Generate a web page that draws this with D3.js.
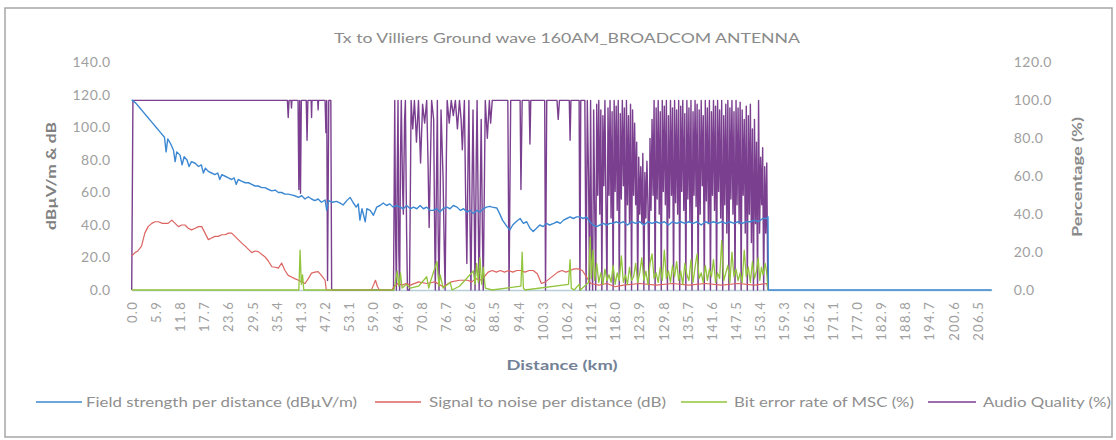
<!DOCTYPE html>
<html><head><meta charset="utf-8">
<script src="https://cdn.jsdelivr.net/npm/d3@7"></script>
<style>
body{margin:0;background:#fff}
svg text{font-family:Lato,"Liberation Sans",sans-serif}
</style>
</head><body>
<svg id="chart" width="1116" height="440"></svg>
<script>
const chartTitle = "Tx to Villiers Ground wave 160AM_BROADCOM ANTENNA";
const xAxisLabels = ["0.0","5.9","11.8","17.7","23.6","29.5","35.4","41.3","47.2","53.1","59.0","64.9","70.8","76.7","82.6","88.5","94.4","100.3","106.2","112.1","118.0","123.9","129.8","135.7","141.6","147.5","153.4","159.3","165.2","171.1","177.0","182.9","188.8","194.7","200.6","206.5"];
const leftTicks = [0,20,40,60,80,100,120,140];
const rightTicks = [0,20,40,60,80,100,120];
const seriesNames = ["Field strength per distance (dBµV/m)","Signal to noise per distance (dB)","Bit error rate of MSC (%)","Audio Quality (%)"];

// Field strength (dBµV/m) : [km, value]
const fieldStrength = [[0,117],[1,115],[2,112],[3,109],[4,106],[5,103],[6,100],[7,97],[8,94],[8.4,85],[8.8,93],[9.5,90],[10.2,86],[10.6,79],[11,85],[11.8,83],[12.3,77],[12.8,82],[13.5,80],[14,76],[14.6,79],[15.5,78],[16.3,76],[17,77],[17.5,72],[18,75],[18.7,73],[19.5,72],[20.3,71],[21,72],[21.5,68],[22,71],[22.8,70],[23.6,69],[24.4,68],[25,69],[25.5,65],[26,68],[26.8,67],[27.7,66],[28.5,66],[29.3,65],[30.1,64],[30.9,64],[31.7,63],[32.5,63],[33.3,62],[34.2,61],[35,61.5],[35.8,60],[36.6,60],[37.4,59],[38.2,59],[39,58.5],[39.8,58],[40.7,57],[41.5,58],[42.3,56],[43.1,57.4],[43.9,56],[44.7,55],[45.5,56],[46.3,54],[47.2,55.4],[47.6,49],[48,55],[49,54],[50,54.5],[50.9,53.5],[51.6,52.3],[52.5,55],[53.3,57],[54,54],[54.8,51],[55.3,53],[55.7,43],[56.2,50],[57,42],[57.4,50],[58.2,49],[59,46],[59.8,51],[60.6,52],[61.4,53.5],[62.2,52],[63,53],[63.8,51],[64.6,52],[65.5,51],[66.3,50],[67.1,52],[68,50],[68.8,51],[69.6,50],[70.4,52],[71.2,50],[72,51],[72.8,49],[73.6,49],[74.4,50],[75.2,48],[76,50],[76.9,51],[77.7,50],[78.5,52],[79.4,51],[80.2,49],[81,50],[81.8,48],[82.6,49],[83.4,47],[84.2,49],[85,48],[85.8,50],[86.6,51],[87.4,51.5],[88,51],[89.1,50.5],[89.8,47],[90.5,43],[91.6,39],[92.3,37],[93,40],[93.8,42],[94.8,44],[95.6,41],[96.4,42],[97.2,38],[98,36],[98.8,38],[99.6,40],[100.4,39],[101.2,41],[102,40],[103,41],[103.8,42],[104.6,41],[105.4,43],[106.2,44],[107,45],[107.8,44],[108.6,45],[109.4,45],[110.2,44],[111,45],[111.8,42],[112.6,40],[113.5,39],[114.3,40],[115.1,41],[115.9,40],[116.7,41],[117.5,41],[118.3,42],[119,41],[120,42],[121,40],[122,42],[123,41],[124,42],[125,40],[126,42],[127,41],[128,42],[129,41],[130,42],[131,40],[132,42],[133,41],[134,42],[135,41],[136,42],[137,41],[138,42],[139,40],[140,42],[141,41],[142,42],[143,41],[144,42],[145,41],[146,42],[147,41],[148,42],[149,41],[150,42],[151,42],[152,43],[153,42],[154,44],[155,44],[155.3,45],[155.4,0],[209.9,0]];

// Signal to noise (dB)
const signalToNoise = [[0,21],[0.8,23],[1.5,24],[2.4,27],[3.2,35],[4,39],[4.9,41],[5.7,42],[6.5,42],[7.5,41],[8.9,41],[9.8,43],[10.6,41],[11.4,39],[12.2,40],[13,40],[13.8,38],[14.6,37],[15.5,38],[16.3,39],[17.1,39],[17.9,35],[18.7,31],[19.5,32],[20.3,33],[21.1,33],[22,34],[22.8,34],[23.6,35],[24.4,35],[25.2,33],[26,31],[26.8,29],[27.7,27],[28.5,25],[29.3,23],[30.1,24],[30.9,23.6],[31.7,22],[32.5,20.5],[33.3,18],[34.2,14.3],[35,14],[35.8,13.5],[36.6,16.6],[37.4,12],[38.2,9],[39,8],[39.8,7],[40.7,6],[41.5,5],[42.3,4],[43.1,7],[43.9,10.4],[44.7,11],[45.5,11.3],[46.3,9],[47.2,6],[47.5,0],[58.5,0],[59,3],[59.5,6],[60,2],[60.5,0],[63.5,0],[64,2],[65,4],[66,3],[67,4],[68,3],[70,5],[72,4],[74,5],[76,2],[78,5],[80,6],[82,6],[83,5],[84,7],[85,6],[86,8],[87,11],[88,12],[89,11],[90,12],[91,11],[92,12],[93,11],[94,12],[95,12],[96,11],[97,12],[98,12],[99,10],[100,4],[101,5],[102,7],[103,9],[104,11],[105,12],[106,11],[107,12],[108,13],[109,13],[110,12],[111,8],[112,4],[114,3],[116,4],[118,2],[120,3],[124,4],[128,3],[132,4],[136,3],[140,4],[144,3],[148,4],[152,3],[155,4],[155.3,0]];

// Bit error rate of MSC (%)
const bitErrorRate = [[0,0],[40.8,0],[41.1,21],[41.4,3],[41.7,8],[42,0],[64,0],[64.4,5],[64.8,10],[65.2,2],[65.6,9],[66,1],[67,3],[68,1],[70,2],[72,7],[72.5,1],[73,5],[74.5,15],[75,2],[75.3,8],[76,1],[77.7,4],[78.2,0],[80,2],[83.4,10],[83.8,3],[84.2,14],[84.6,4],[85,17],[85.4,3],[85.8,12],[86.3,1],[88,0],[95,2],[95.3,20],[95.6,1],[96,0],[106.6,3],[107,16],[107.3,1],[108,0],[109.2,3],[109.5,0],[111.5,4],[111.9,28],[112.2,6],[112.6,21],[113,5],[113.5,14],[114,4],[114.5,9],[115,3],[115.5,11],[116,5],[116.5,8],[117,4],[117.5,13],[118,3],[118.5,9],[119,5],[119.5,18],[120,4],[120.5,8],[121,3],[121.5,12],[122,5],[122.5,7],[123,14],[123.5,4],[124,9],[124.5,17],[125,5],[125.5,10],[126,3],[126.5,14],[127,19],[127.5,6],[128,9],[128.5,4],[129,12],[129.5,5],[130,21],[130.5,6],[131,10],[131.5,4],[132,13],[132.5,7],[133,15],[133.5,5],[134,10],[134.5,3],[135,14],[135.5,8],[136,5],[136.5,16],[137,4],[137.5,12],[138,19],[138.5,6],[139,9],[139.5,4],[140,13],[140.5,5],[141,11],[141.5,7],[142,16],[142.5,4],[143,9],[143.5,6],[144,26],[144.5,5],[145,9],[145.5,13],[146,4],[146.5,20],[147,7],[147.5,11],[148,5],[148.5,9],[149,4],[149.5,21],[150,7],[150.5,12],[151,4],[151.5,15],[152,6],[152.5,10],[152.9,17],[153.3,5],[153.7,12],[154.1,8],[154.6,14],[155,9],[155.3,0]];

// Audio quality (%)
const audioQuality = [[0,0],[0.3,100],[38,100],[38.2,91],[38.4,100],[38.9,100],[39,96],[39.1,100],[40.6,100],[40.8,53],[41,100],[41.2,51],[41.4,100],[42.6,100],[42.8,79],[43,100],[43.8,100],[43.9,91],[44,100],[45.4,100],[45.5,95],[45.6,100],[47.2,100],[47.4,83],[47.6,100],[47.8,5],[48.1,100],[48.6,100],[48.8,0],[63.9,0],[64.2,100],[64.4,30],[64.6,0],[64.8,60],[65,100],[65.2,20],[65.4,0],[65.6,70],[65.8,100],[66.1,55],[66.3,40],[66.6,90],[66.8,100],[67.1,30],[67.3,0],[67.8,0],[68.2,100],[68.4,92],[68.6,85],[69,100],[69.3,88],[69.5,78],[70,100],[70.3,80],[70.5,67],[71,98],[71.5,88],[72,100],[72.3,70],[72.6,33],[73.2,100],[73.7,90],[73.9,40],[74.1,0],[74.4,60],[74.6,100],[74.8,30],[75,0],[75.3,50],[75.5,95],[76,59],[76.3,20],[76.5,0],[76.8,70],[77,100],[77.5,88],[78,100],[78.5,92],[79,100],[79.5,85],[80,100],[80.4,90],[80.7,74],[81.2,100],[81.5,50],[81.8,14],[82.1,70],[82.3,100],[82.6,30],[82.8,0],[83.1,60],[83.3,95],[83.6,40],[83.8,0],[84.1,70],[84.3,100],[84.6,35],[84.8,0],[85.1,55],[85.3,90],[85.6,30],[85.8,0],[86.1,60],[86.3,100],[86.8,80],[87.3,100],[87.6,88],[88,100],[91.8,100],[92.1,0],[92.5,100],[94.8,100],[95,53],[95.3,100],[97,100],[97.2,77],[97.4,100],[100.8,100],[101,0],[101.3,100],[103.8,100],[104.1,90],[104.4,100],[106.8,100],[107,79],[107.2,100],[109.2,100],[109.4,0],[109.6,100],[110.6,100],[110.9,0],[111.2,100],
[111.5,60],[111.75,0],[112,100],[112.25,20],[112.5,0],[112.75,95],[113,45],[113.25,0],
[113.5,98],[113.75,50],[114,100],[114.25,40],[114.5,95],[114.75,0],[115,92],[115.25,55],
[115.5,100],[115.75,45],[116,0],[116.25,96],[116.5,50],[116.75,100],[117,38],[117.25,94],
[117.5,0],[117.75,100],[118,52],[118.25,97],[118.5,42],[118.75,100],[119,0],[119.25,93],
[119.5,48],[119.75,100],[120,55],[120.25,96],[120.5,0],[120.75,100],[121,45],[121.25,92],
[121.5,35],[121.75,98],[122,0],[122.25,95],[122.5,50],[122.75,88],[123,45],[123.25,78],
[123.5,0],[123.75,70],[124,40],[124.25,65],[124.5,35],[124.75,72],[125,0],[125.25,62],
[125.5,38],[125.75,68],[126,45],[126.25,0],[126.5,80],[126.75,42],[127,90],[127.25,50],
[127.5,100],[127.75,0],[128,96],[128.25,48],[128.5,100],[128.75,40],[129,94],[129.25,0],
[129.5,100],[129.75,52],[130,97],[130.25,45],[130.5,100],[130.75,0],[131,92],[131.25,38],
[131.5,100],[131.75,50],[132,96],[132.25,0],[132.5,100],[132.75,46],[133,95],[133.25,40],
[133.5,100],[133.75,0],[134,97],[134.25,52],[134.5,100],[134.75,42],[135,93],[135.25,0],
[135.5,100],[135.75,48],[136,96],[136.25,36],[136.5,100],[136.75,0],[137,94],[137.25,50],
[137.5,100],[137.75,44],[138,98],[138.25,0],[138.5,95],[138.75,40],[139,100],[139.25,55],
[139.5,92],[139.75,0],[140,100],[140.25,47],[140.5,96],[140.75,35],[141,100],[141.25,0],
[141.5,94],[141.75,50],[142,100],[142.25,42],[142.5,97],[142.75,0],[143,100],[143.25,52],
[143.5,95],[143.75,38],[144,100],[144.25,0],[144.5,92],[144.75,45],[145,98],[145.25,30],
[145.5,100],[145.75,0],[146,96],[146.25,48],[146.5,100],[146.75,40],[147,94],[147.25,0],
[147.5,100],[147.75,45],[148,96],[148.25,35],[148.5,99],[148.75,0],[149,95],[149.25,50],
[149.5,90],[149.75,30],[150,97],[150.25,0],[150.5,92],[150.75,40],[151,98],[151.25,25],
[151.5,85],[151.75,0],[152,90],[152.25,35],[152.5,78],[152.75,0],[153,100],[153.25,30],
[153.5,70],[153.75,45],[154,75],[154.25,0],[154.5,65],[154.75,30],[155,67],[155.25,0]];

const colors = {field:"#3d88d2", snr:"#dc6360", ber:"#92c43c", aq:"#7a3f8f"};

const svg = d3.select("#chart");
const plot = {left:131.7, right:991.7, top:62.5, bottom:290};

svg.append("rect").attr("x",5).attr("y",8).attr("width",1107).attr("height",429)
  .attr("fill","#fff").attr("stroke","#a6a6a6").attr("stroke-width",1.5);

const x = d3.scaleLinear().domain([0,209.9]).range([plot.left, plot.right]);
const yL = d3.scaleLinear().domain([0,140]).range([plot.bottom, plot.top]);
const yR = d3.scaleLinear().domain([0,120]).range([plot.bottom, plot.top]);

// title
svg.append("text").attr("x",567).attr("y",43).attr("text-anchor","middle")
  .attr("font-size",14).attr("fill","#8a8a8a")
  .attr("textLength",466).attr("lengthAdjust","spacingAndGlyphs").text(chartTitle);

// left axis
const gL = svg.append("g").attr("transform",`translate(${plot.left},0)`)
  .call(d3.axisLeft(yL).tickValues(leftTicks).tickFormat(d3.format(".1f")).tickSize(0).tickPadding(21));
gL.select(".domain").remove();
gL.selectAll("text").attr("font-family","Lato,sans-serif").attr("font-size",14).attr("fill","#a0a0a0").attr("letter-spacing",0.5);

// right axis
const gR = svg.append("g").attr("transform",`translate(${plot.right},0)`)
  .call(d3.axisRight(yR).tickValues(rightTicks).tickFormat(d3.format(".1f")).tickSize(0).tickPadding(22));
gR.select(".domain").remove();
gR.selectAll("text").attr("font-family","Lato,sans-serif").attr("font-size",14).attr("fill","#a0a0a0").attr("letter-spacing",0.5);

// bottom axis
const xTickVals = xAxisLabels.map(Number);
const gX = svg.append("g").attr("transform",`translate(0,${plot.bottom})`)
  .call(d3.axisBottom(x).tickValues(xTickVals).tickFormat((d,i)=>xAxisLabels[i]).tickSize(0).tickSizeOuter(0));
gX.select(".domain").attr("stroke","#b7ced8").attr("stroke-width",1.6);
gX.selectAll("text").attr("font-family","Lato,sans-serif").attr("font-size",13).attr("fill","#a0a0a0")
  .attr("letter-spacing",1.3)
  .attr("transform","rotate(-90)").attr("x",-11).attr("y",0).attr("dy","0.35em").attr("text-anchor","end");

// axis titles
svg.append("text").attr("transform","translate(56,176) rotate(-90)").attr("text-anchor","middle")
  .attr("font-size",14).attr("font-weight","bold").attr("fill","#808080")
  .attr("textLength",108).attr("lengthAdjust","spacingAndGlyphs").text("dBµV/m & dB");
svg.append("text").attr("transform","translate(1082,177) rotate(-90)").attr("text-anchor","middle")
  .attr("font-size",14).attr("font-weight","bold").attr("fill","#8a8a8a")
  .attr("textLength",120).attr("lengthAdjust","spacingAndGlyphs").text("Percentage (%)");
svg.append("text").attr("x",562).attr("y",370).attr("text-anchor","middle")
  .attr("font-size",14).attr("font-weight","bold").attr("fill","#738197")
  .attr("textLength",111).attr("lengthAdjust","spacingAndGlyphs").text("Distance (km)");

// lines
const lineL = d3.line().x(d=>x(d[0])).y(d=>yL(d[1]));
const lineR = d3.line().x(d=>x(d[0])).y(d=>yR(d[1]));
const gLines = svg.append("g");
gLines.append("path").datum(audioQuality).attr("d",lineR).attr("fill","none").attr("stroke",colors.aq).attr("stroke-width",1.4).attr("stroke-linejoin","round");
gLines.append("path").datum(signalToNoise).attr("d",lineL).attr("fill","none").attr("stroke",colors.snr).attr("stroke-width",1.2).attr("stroke-linejoin","round");
gLines.append("path").datum(bitErrorRate).attr("d",lineR).attr("fill","none").attr("stroke",colors.ber).attr("stroke-width",1.3).attr("stroke-linejoin","round");
gLines.append("path").datum(fieldStrength).attr("d",lineL).attr("fill","none").attr("stroke",colors.field).attr("stroke-width",1.4).attr("stroke-linejoin","round");

// legend
const legendLayout = [
  {x1:36,x2:82,tx:86,tl:271,c:colors.field},
  {x1:375,x2:421,tx:429,tl:237,c:colors.snr},
  {x1:681,x2:727,tx:734,tl:180,c:colors.ber},
  {x1:928,x2:976,tx:983,tl:128,c:colors.aq}
];
const lg = svg.append("g");
seriesNames.forEach((name,i)=>{
  const L = legendLayout[i];
  lg.append("line").attr("x1",L.x1).attr("x2",L.x2).attr("y1",402).attr("y2",402).attr("stroke",L.c).attr("stroke-width",1.5);
  lg.append("text").attr("x",L.tx).attr("y",407).attr("font-size",13).attr("fill","#8f8f8f")
    .attr("textLength",L.tl).attr("lengthAdjust","spacingAndGlyphs").text(name);
});
</script>
</body></html>
